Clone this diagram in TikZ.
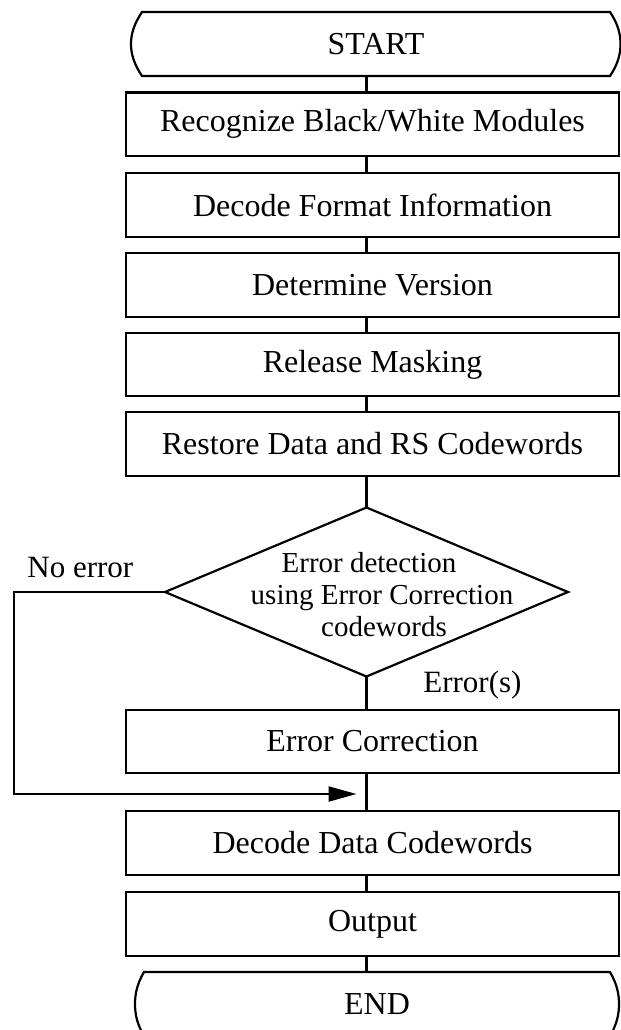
\documentclass[tikz,border=0pt]{standalone}
\usepackage{fontspec}
\setmainfont{Liberation Serif}
\usetikzlibrary{shapes.geometric,arrows.meta,calc}
\begin{document}
\begin{tikzpicture}[x=0.5pt,y=-0.5pt,
  font=\fontsize{16}{16}\selectfont,
  lw/.style={line width=1.1pt},
  proc/.style={draw, lw, rectangle, minimum width=246.5pt, minimum height=31.75pt, inner sep=0pt, outer sep=0pt},
  term/.style={rectangle, minimum width=234pt, minimum height=32pt, inner sep=0pt, outer sep=0pt},
  decis/.style={draw, lw, diamond, minimum width=201.5pt, minimum height=84.5pt, inner sep=0pt, outer sep=0pt},
  conn/.style={lw},
  arr/.style={lw, -{Triangle[length=14pt,width=7.5pt]}, shorten >=5pt},
  lbl/.style={font=\fontsize{15.5}{16}\selectfont, inner sep=0pt},
  dtext/.style={font=\fontsize{14.5}{16}\selectfont, align=center, inner sep=0pt}
]
\useasboundingbox (0,0) rectangle (621,1030);
\clip (0,0) rectangle (621,1030);
\fill[white] (0,0) rectangle (621,1030);

\coordinate (sp) at (366.5,0);

% START terminator
\node[term] (st) at (376,44) {START};
\draw[lw] (st.south west) -- (st.south east)
  .. controls +(8,-12) and +(0,10) .. ($(st.east)+(10.5,0)$)
  .. controls +(0,-10) and +(8,12) .. (st.north east)
  -- (st.north west)
  .. controls +(-8,12) and +(0,-10) .. ($(st.west)+(-11,0)$)
  .. controls +(0,10) and +(-8,-12) .. (st.south west) -- cycle;

\node[proc] (b1) at (372.5,124.25) {Recognize Black/White Modules};
\node[proc] (b2) at (372.5,205) {Decode Format Information};
\node[proc] (b3) at (372.5,285) {Determine Version};
\node[proc] (b4) at (372.5,364.5) {Release Masking};
\node[proc] (b5) at (372.5,444) {Restore Data and RS Codewords};

\node[decis] (dia) at (366.5,592) {};
\node[dtext] (dtx) at (382,595) {Error detection\hspace*{13pt}\\using Error Correction\\\hspace*{2pt}codewords};

\node[proc] (ec) at (372.5,741.5) {Error Correction};
\node[proc] (dec) at (372.5,843) {Decode Data Codewords};
\node[proc] (out) at (372.5,924) {Output};

% END terminator
\node[term, minimum width=233pt] (en) at (377,1004) {END};
\draw[lw] (en.south west) -- (en.south east)
  .. controls +(7,-12) and +(0,10) .. ($(en.east)+(9,0)$)
  .. controls +(0,-10) and +(7,12) .. (en.north east)
  -- (en.north west)
  .. controls +(-7,12) and +(0,-10) .. ($(en.west)+(-9,0)$)
  .. controls +(0,10) and +(-7,-12) .. (en.south west) -- cycle;

% connectors
\draw[conn] (st.south -| sp) -- (b1.north -| sp);
\draw[conn] (b1.south -| sp) -- (b2.north -| sp);
\draw[conn] (b2.south -| sp) -- (b3.north -| sp);
\draw[conn] (b3.south -| sp) -- (b4.north -| sp);
\draw[conn] (b4.south -| sp) -- (b5.north -| sp);
\draw[conn] (b5.south -| sp) -- (dia.north);
\draw[conn] (dia.south) -- (ec.north -| sp);
\draw[conn] (ec.south -| sp) -- (dec.north -| sp);
\draw[conn] (dec.south -| sp) -- (out.north -| sp);
\draw[conn] (out.south -| sp) -- (en.north -| sp);

\coordinate (lc) at (14,794);
\coordinate (m) at (366.5,794);
\draw[arr] (dia.west) -| (lc) -- (m);

% labels
\node[lbl, anchor=base west] (noerr) at (27,577) {No error};
\node[lbl, anchor=base west] (errs) at (423,692) {Error(s)};
\end{tikzpicture}
\end{document}
